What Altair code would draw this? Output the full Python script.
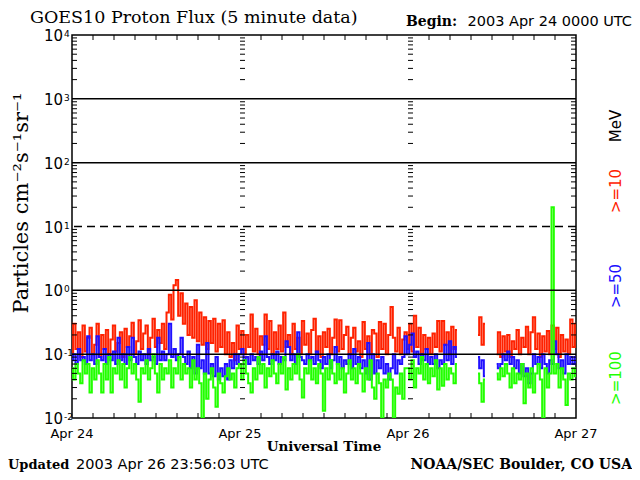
import altair as alt
import pandas as pd

# ---------------- data (flux, particles cm^-2 s^-1 sr^-1), 20-minute samples ----------
STEP_H = 1.0 / 3.0          # sample step in hours
N_SAMPLES = 217             # 0 h .. 72 h

red_apr24 = [0.10,0.30,0.12,0.22,0.09,0.28,0.11,0.18,0.26,0.10,
             0.14,0.30,0.09,0.20,0.12,0.24,0.10,0.17,0.28,0.11,
             0.15,0.22,0.09,0.25,0.13,0.19,0.31,0.10,0.16,0.34,
             0.12,0.21,0.28,0.10,0.18,0.36,0.13,0.24,0.15,0.30,
             0.12,0.45,0.85,0.35,1.20,1.45,0.40,0.90,0.30,0.62,
             0.20,0.55,0.18,0.70,0.16,0.45,0.14,0.38,0.12,0.33,
             0.15,0.36,0.11,0.30,0.13,0.34,0.10,0.22,0.09,0.15,
             0.08,0.28]
red_apr25 = [0.12,0.23,0.10,0.20,0.13,0.42,0.11,0.25,0.10,0.19,
             0.14,0.42,0.12,0.33,0.10,0.22,0.12,0.28,0.11,0.45,
             0.13,0.20,0.10,0.30,0.12,0.18,0.10,0.33,0.14,0.21,
             0.10,0.24,0.36,0.11,0.19,0.09,0.22,0.13,0.25,0.10,
             0.18,0.35,0.11,0.34,0.12,0.20,0.27,0.10,0.18,0.26,
             0.11,0.16,0.09,0.32,0.12,0.19,0.10,0.24,0.21,0.09,
             0.32,0.12,0.30,0.10,0.20,0.55,0.18,0.11,0.26,0.10,
             0.17,0.22]
red_apr26 = [0.12,0.30,0.11,0.40,0.13,0.26,0.10,0.20,0.12,0.18,
             0.10,0.21,0.13,0.33,0.11,0.33,0.14,0.22,0.10,0.27,
             0.12,0.24,None,None,None,None,None,None,None,None,
             0.20,0.38,0.14,0.30,None,None,None,None,0.10,0.22,
             0.09,0.19,0.11,0.20,0.09,0.16,0.12,0.24,0.10,0.18,
             0.13,0.27,0.10,0.22,0.38,0.12,0.21,0.09,0.19,0.11,
             0.23,0.10,0.28,0.12,0.26,0.09,0.20,0.11,0.17,0.10,
             0.35,0.13,0.30]

blue_apr24 = [0.08,0.10,0.07,0.12,0.08,0.09,0.07,0.19,0.08,0.10,
              0.07,0.19,0.09,0.08,0.12,0.07,0.10,0.08,0.11,0.07,
              0.18,0.08,0.10,0.07,0.13,0.08,0.18,0.09,0.07,0.11,
              0.08,0.10,0.07,0.12,0.08,0.09,0.07,0.18,0.08,0.11,
              0.08,0.10,0.30,0.09,0.12,0.08,0.10,0.18,0.09,0.07,
              0.11,0.06,0.09,0.05,0.14,0.06,0.08,0.05,0.15,0.05,
              0.07,0.045,0.09,0.04,0.06,0.045,0.07,0.04,0.08,0.06,
              0.10,0.07]
blue_apr25 = [0.10,0.12,0.08,0.09,0.07,0.10,0.08,0.09,0.07,0.11,
              0.08,0.19,0.09,0.07,0.10,0.08,0.11,0.07,0.09,0.08,
              0.16,0.13,0.08,0.10,0.07,0.22,0.09,0.08,0.07,0.10,
              0.08,0.09,0.07,0.11,0.08,0.06,0.09,0.07,0.10,0.06,
              0.08,0.13,0.07,0.09,0.06,0.08,0.07,0.10,0.06,0.12,
              0.07,0.09,0.06,0.08,0.05,0.15,0.04,0.10,0.05,0.08,
              0.06,0.09,0.05,0.07,0.04,0.06,0.10,0.05,0.08,0.07,
              0.09,0.19]
blue_apr26 = [0.10,0.14,0.21,0.09,0.11,0.07,0.10,0.08,0.12,0.07,
              0.09,0.07,0.10,0.06,0.08,0.07,0.14,0.08,0.16,0.07,
              0.13,0.09,None,None,None,None,None,None,None,None,
              0.09,0.06,0.08,0.045,None,None,None,None,0.07,0.06,
              0.07,0.10,0.08,0.11,0.07,0.09,0.06,0.08,0.05,0.07,
              0.045,0.06,0.035,0.05,0.10,0.07,0.09,0.06,0.10,0.07,
              0.05,0.08,0.07,0.16,0.10,0.06,0.08,0.05,0.10,0.07,
              0.09,0.07,0.09]

green_apr24 = [0.06,0.04,0.07,0.05,0.035,0.08,0.05,0.07,0.025,0.06,
               0.04,0.08,0.05,0.025,0.07,0.04,0.09,0.025,0.06,0.05,
               0.08,0.04,0.07,0.03,0.06,0.09,0.05,0.07,0.04,0.018,
               0.06,0.05,0.08,0.04,0.06,0.10,0.05,0.025,0.07,0.04,
               0.06,0.05,0.08,0.03,0.06,0.05,0.09,0.04,0.07,0.05,
               0.06,0.03,0.08,0.04,0.06,0.035,0.01,0.05,0.02,0.04,
               0.06,0.03,0.015,0.05,0.035,0.025,0.045,0.06,0.04,0.05,
               0.03,0.06]
green_apr25 = [0.07,0.04,0.08,0.05,0.035,0.025,0.06,0.04,0.09,0.05,
               0.07,0.03,0.06,0.045,0.08,0.05,0.035,0.07,0.05,0.09,
               0.028,0.06,0.04,0.07,0.05,0.10,0.04,0.021,0.06,0.05,
               0.08,0.04,0.06,0.035,0.07,0.05,0.013,0.06,0.04,0.08,
               0.05,0.035,0.07,0.04,0.06,0.025,0.05,0.08,0.04,0.06,
               0.035,0.07,0.05,0.026,0.06,0.04,0.08,0.03,0.02,0.05,
               0.035,0.01,0.04,0.03,0.05,0.04,0.01,0.03,0.024,0.05,
               0.02,0.06]
green_apr26 = [0.06,0.04,0.08,0.03,0.06,0.05,0.09,0.04,0.07,0.035,
               0.06,0.045,0.08,0.028,0.06,0.032,0.07,0.04,0.06,0.05,
               0.035,0.07,None,None,None,None,None,None,None,None,
               0.05,0.035,0.018,0.04,None,None,None,None,0.05,0.04,
               0.06,0.045,0.07,0.05,0.03,0.06,0.035,0.05,0.04,0.07,
               0.017,0.05,0.03,0.06,0.025,0.05,0.07,0.04,0.01,0.06,
               0.03,0.05,20.0,0.05,0.07,0.03,0.06,0.04,0.016,0.05,
               0.04,0.06,0.045]

day_hours = [0, 24, 48, 72]
day_labels = ["Apr 24", "Apr 25", "Apr 26", "Apr 27"]
decade_exps = [-2, -1, 0, 1, 2, 3, 4]
solid_grid = [1e3, 1e2, 1e0, 1e-1]
dashed_grid = [1e1]

RED, BLUE, GREEN = "#ff2200", "#2010ff", "#22ff00"

# ---------------- frames ----------------
hours = [i * STEP_H for i in range(N_SAMPLES)]


def frame(values):
    rows, seg = [], 0
    for h, v in zip(hours, values):
        if v is None:
            seg += 1
            continue
        rows.append({"h": h, "v": v, "seg": seg})
    return pd.DataFrame(rows)


red_df = frame(red_apr24 + red_apr25 + red_apr26)
blue_df = frame(blue_apr24 + blue_apr25 + blue_apr26)
green_df = frame(green_apr24 + green_apr25 + green_apr26)

W, H = 504, 383
X = alt.X("h:Q", scale=alt.Scale(domain=[0, 72], nice=False, zero=False), axis=None)
Y = alt.Y("v:Q", scale=alt.Scale(type="log", domain=[0.01, 10000], nice=False), axis=None)


def series(df, color):
    return alt.Chart(df).mark_line(interpolate="step", color=color, strokeWidth=2.0,
                                   clip=True).encode(x=X, y=Y, detail="seg:N")


minor_vals = [m * 10.0 ** k for k in range(-2, 4) for m in range(2, 10)]
inner_ticks = pd.DataFrame([{"h": h, "v": v} for h in day_hours[:3] for v in minor_vals])
right_ticks = pd.DataFrame([{"h": 72, "v": v} for v in minor_vals])
xt = pd.DataFrame({"h": [h for h in range(3, 72, 3) if h % 24 != 0]})

layers = [series(red_df, RED), series(blue_df, BLUE), series(green_df, GREEN)]

layers.append(alt.Chart(pd.DataFrame({"v": solid_grid})).mark_rule(
    color="black", strokeWidth=1.5).encode(y=Y))
layers.append(alt.Chart(pd.DataFrame({"v": dashed_grid})).mark_rule(
    color="black", strokeWidth=1.5, strokeDash=[8, 5]).encode(y=Y))
layers.append(alt.Chart(inner_ticks).mark_rule(color="black", strokeWidth=1, x2Offset=5).encode(
    x=X, x2="h:Q", y=Y))
layers.append(alt.Chart(right_ticks).mark_rule(color="black", strokeWidth=1, x2Offset=-5).encode(
    x=X, x2="h:Q", y=Y))
layers.append(alt.Chart(xt).mark_rule(color="black", strokeWidth=1).encode(
    x=X, y=alt.value(0), y2=alt.value(5)))
layers.append(alt.Chart(xt).mark_rule(color="black", strokeWidth=1).encode(
    x=X, y=alt.value(H - 5), y2=alt.value(H)))

dec_df = pd.DataFrame({"v": [10.0 ** k for k in decade_exps], "e": [str(k) for k in decade_exps]})
layers.append(alt.Chart(dec_df).mark_text(font="DejaVu Sans", fontSize=15, align="right",
                                          baseline="middle", dx=-9, dy=1).encode(
    x=alt.value(0), y=Y, text=alt.value("10")))
layers.append(alt.Chart(dec_df).mark_text(font="DejaVu Sans", fontSize=9, align="left",
                                          baseline="top", dx=-8, dy=-5).encode(
    x=alt.value(0), y=Y, text="e:N"))

lab_df = pd.DataFrame({"h": day_hours, "t": day_labels})
layers.append(alt.Chart(lab_df).mark_text(font="DejaVu Sans", fontSize=13, baseline="middle").encode(
    x=X, y=alt.value(399), text="t:N"))


def label(text, x, y, **kw):
    return alt.Chart(pd.DataFrame({"t": [text]})).mark_text(baseline="middle", **kw).encode(
        x=alt.value(x), y=alt.value(y), text="t:N")


layers += [
    label("GOES10 Proton Flux (5 minute data)", -42, -17, align="left",
          font="DejaVu Serif", fontSize=17.5),
    label("Begin:", 334, -13, align="left", font="DejaVu Serif", fontWeight="bold", fontSize=14),
    label("2003 Apr 24 0000 UTC", 560, -13, align="right", font="DejaVu Sans", fontSize=14.5),
    label("Universal Time", 252, 412, align="center", font="DejaVu Serif", fontWeight="bold",
          fontSize=13.5),
    label("Updated", -64, 430, align="left", font="DejaVu Serif", fontWeight="bold",
          fontSize=13),
    label("2003 Apr 26 23:56:03 UTC", 4, 430, align="left", font="DejaVu Sans", fontSize=14.5),
    label("NOAA/SEC Boulder, CO USA", 560, 430, align="right", font="DejaVu Serif",
          fontWeight="bold", fontSize=14),
    label("Particles cm\u207b\u00b2s\u207b\u00b9sr\u207b\u00b9", -50, 168, align="center",
          angle=270, font="DejaVu Serif", fontSize=21),
    label("MeV", 544, 91, align="center", angle=270, font="DejaVu Sans", fontSize=15,
          color="black"),
    label(">=10", 544, 156, align="center", angle=270, font="DejaVu Sans", fontSize=15,
          color=RED),
    label(">=50", 544, 251, align="center", angle=270, font="DejaVu Sans", fontSize=15,
          color=BLUE),
    label(">=100", 544, 343, align="center", angle=270, font="DejaVu Sans", fontSize=15,
          color=GREEN),
]

chart = alt.layer(*layers).properties(
    width=W, height=H,
    padding={"left": 64, "top": 27, "right": 56, "bottom": 54},
    autosize=alt.AutoSizeParams(type="none"),
    background="white",
).configure_view(stroke="black", strokeWidth=1.5)

chart.save("out.html", embed_options={"renderer": "svg", "actions": False})
